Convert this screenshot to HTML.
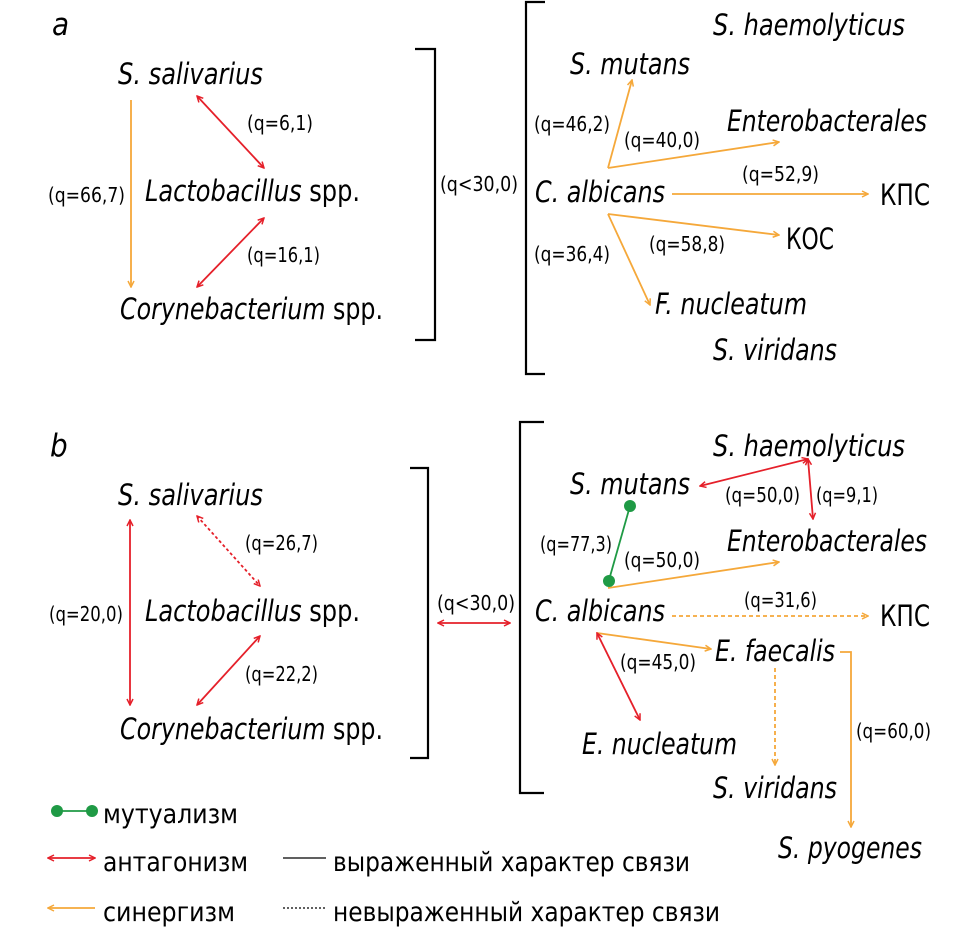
<!DOCTYPE html>
<html><head><meta charset="utf-8"><style>
html,body{margin:0;padding:0;background:#fff;}
svg{display:block;}
text{font-family:"Liberation Sans Narrow","DejaVu Sans Condensed","Liberation Sans",sans-serif;fill:#000;}
.n{font-size:29px;font-style:italic;}
.q{font-size:20px;}
.l{font-size:27px;}
</style></head><body>
<svg width="980" height="929" viewBox="0 0 980 929" xmlns="http://www.w3.org/2000/svg">
<defs>
<marker id="r" viewBox="0 0 8 8" refX="7" refY="4" markerWidth="8" markerHeight="8" markerUnits="userSpaceOnUse" orient="auto-start-reverse"><path d="M1,1 L7,4 L1,7" fill="none" stroke="#e5202a" stroke-width="1.5"/></marker>
<marker id="o" viewBox="0 0 8 8" refX="7" refY="4" markerWidth="8" markerHeight="8" markerUnits="userSpaceOnUse" orient="auto-start-reverse"><path d="M1,1 L7,4 L1,7" fill="none" stroke="#f5a83a" stroke-width="1.5"/></marker>
</defs>
<g fill="none" stroke-width="1.8">
<line x1="131" y1="100" x2="131" y2="287" stroke="#f5a83a" marker-end="url(#o)"/>
<line x1="197" y1="96" x2="264" y2="168" stroke="#e5202a" marker-start="url(#r)" marker-end="url(#r)"/>
<line x1="264" y1="218" x2="197" y2="287" stroke="#e5202a" marker-start="url(#r)" marker-end="url(#r)"/>
<path d="M415,49 H435 V340 H415" stroke="#000" stroke-width="2.2"/>
<path d="M545,2 H526 V374 H545" stroke="#000" stroke-width="2.2"/>
<line x1="608" y1="168" x2="632" y2="80" stroke="#f5a83a" marker-end="url(#o)"/>
<line x1="608" y1="168" x2="779" y2="142" stroke="#f5a83a" marker-end="url(#o)"/>
<line x1="672" y1="194" x2="868" y2="194" stroke="#f5a83a" marker-end="url(#o)"/>
<line x1="608" y1="214" x2="779" y2="235" stroke="#f5a83a" marker-end="url(#o)"/>
<line x1="608" y1="214" x2="650" y2="305" stroke="#f5a83a" marker-end="url(#o)"/>
<line x1="130" y1="520" x2="130" y2="705" stroke="#e5202a" marker-start="url(#r)" marker-end="url(#r)"/>
<line x1="197" y1="516" x2="260" y2="586" stroke="#e5202a" stroke-dasharray="3,2.5" marker-start="url(#r)" marker-end="url(#r)"/>
<line x1="260" y1="636" x2="197" y2="705" stroke="#e5202a" marker-start="url(#r)" marker-end="url(#r)"/>
<path d="M410,468 H428 V758 H410" stroke="#000" stroke-width="2.2"/>
<line x1="438" y1="623" x2="510" y2="623" stroke="#e5202a" marker-start="url(#r)" marker-end="url(#r)"/>
<path d="M544,422 H520 V793 H544" stroke="#000" stroke-width="2.2"/>
<line x1="700" y1="486" x2="808" y2="459" stroke="#e5202a" marker-start="url(#r)" marker-end="url(#r)"/>
<line x1="808" y1="459" x2="813" y2="519" stroke="#e5202a" marker-start="url(#r)" marker-end="url(#r)"/>
<line x1="630" y1="506" x2="609" y2="580" stroke="#1f9a45"/>
<line x1="608" y1="588" x2="779" y2="562" stroke="#f5a83a" marker-end="url(#o)"/>
<line x1="672" y1="616" x2="868" y2="616" stroke="#f5a83a" stroke-dasharray="4,3" marker-end="url(#o)"/>
<line x1="597" y1="633" x2="711" y2="649" stroke="#f5a83a" marker-end="url(#o)"/>
<line x1="597" y1="633" x2="640" y2="720" stroke="#e5202a" marker-start="url(#r)" marker-end="url(#r)"/>
<line x1="775" y1="668" x2="775" y2="765" stroke="#f5a83a" stroke-dasharray="4,3" marker-end="url(#o)"/>
<path d="M840,652 H851 V827" stroke="#f5a83a" marker-end="url(#o)"/>
<line x1="57" y1="811" x2="92" y2="811" stroke="#1f9a45"/>
<line x1="48" y1="858" x2="95" y2="858" stroke="#e5202a" marker-start="url(#r)" marker-end="url(#r)"/>
<line x1="48" y1="908" x2="95" y2="908" stroke="#f5a83a" marker-start="url(#o)"/>
<line x1="283" y1="858" x2="326" y2="858" stroke="#000" stroke-width="1.3"/>
<line x1="283" y1="908" x2="326" y2="908" stroke="#000" stroke-width="1.2" stroke-dasharray="2,2"/>
</g>
<circle cx="630" cy="506" r="6" fill="#1f9a45"/>
<circle cx="609" cy="581" r="6" fill="#1f9a45"/>
<circle cx="57" cy="811" r="6" fill="#1f9a45"/>
<circle cx="92" cy="811" r="6" fill="#1f9a45"/>

<g>
<text class="n" x="52" y="35" style="font-size:31px">a</text>
<text class="n" x="118" y="84" textLength="145" lengthAdjust="spacingAndGlyphs">S. salivarius</text>
<text class="n" x="145" y="201" textLength="215" lengthAdjust="spacingAndGlyphs">Lactobacillus <tspan style="font-style:normal">spp.</tspan></text>
<text class="n" x="120" y="319" textLength="263" lengthAdjust="spacingAndGlyphs">Corynebacterium <tspan style="font-style:normal">spp.</tspan></text>
<text class="q" x="247" y="130" textLength="66" lengthAdjust="spacingAndGlyphs">(q=6,1)</text>
<text class="q" x="48" y="202" textLength="77" lengthAdjust="spacingAndGlyphs">(q=66,7)</text>
<text class="q" x="247" y="262" textLength="73" lengthAdjust="spacingAndGlyphs">(q=16,1)</text>
<text class="q" x="440" y="191" textLength="78" lengthAdjust="spacingAndGlyphs">(q&lt;30,0)</text>
<text class="n" x="713" y="35" textLength="192" lengthAdjust="spacingAndGlyphs">S. haemolyticus</text>
<text class="n" x="570" y="74" textLength="120" lengthAdjust="spacingAndGlyphs">S. mutans</text>
<text class="q" x="534" y="131" textLength="76" lengthAdjust="spacingAndGlyphs">(q=46,2)</text>
<text class="q" x="624" y="147" textLength="76" lengthAdjust="spacingAndGlyphs">(q=40,0)</text>
<text class="n" x="727" y="131" textLength="200" lengthAdjust="spacingAndGlyphs">Enterobacterales</text>
<text class="n" x="535" y="202" textLength="130" lengthAdjust="spacingAndGlyphs">C. albicans</text>
<text class="q" x="742" y="181" textLength="77" lengthAdjust="spacingAndGlyphs">(q=52,9)</text>
<text class="n" x="880" y="205" style="font-style:normal" textLength="50" lengthAdjust="spacingAndGlyphs">КПС</text>
<text class="n" x="786" y="249" style="font-style:normal" textLength="48" lengthAdjust="spacingAndGlyphs">КОС</text>
<text class="q" x="649" y="251" textLength="76" lengthAdjust="spacingAndGlyphs">(q=58,8)</text>
<text class="q" x="534" y="261" textLength="76" lengthAdjust="spacingAndGlyphs">(q=36,4)</text>
<text class="n" x="655" y="314" textLength="152" lengthAdjust="spacingAndGlyphs">F. nucleatum</text>
<text class="n" x="713" y="360" textLength="124" lengthAdjust="spacingAndGlyphs">S. viridans</text>

<text class="n" x="50" y="456" style="font-size:31px">b</text>
<text class="n" x="118" y="505" textLength="145" lengthAdjust="spacingAndGlyphs">S. salivarius</text>
<text class="n" x="145" y="621" textLength="215" lengthAdjust="spacingAndGlyphs">Lactobacillus <tspan style="font-style:normal">spp.</tspan></text>
<text class="n" x="120" y="739" textLength="263" lengthAdjust="spacingAndGlyphs">Corynebacterium <tspan style="font-style:normal">spp.</tspan></text>
<text class="q" x="245" y="550" textLength="73" lengthAdjust="spacingAndGlyphs">(q=26,7)</text>
<text class="q" x="49" y="621" textLength="74" lengthAdjust="spacingAndGlyphs">(q=20,0)</text>
<text class="q" x="245" y="681" textLength="73" lengthAdjust="spacingAndGlyphs">(q=22,2)</text>
<text class="q" x="437" y="610" textLength="78" lengthAdjust="spacingAndGlyphs">(q&lt;30,0)</text>
<text class="n" x="713" y="456" textLength="192" lengthAdjust="spacingAndGlyphs">S. haemolyticus</text>
<text class="n" x="570" y="494" textLength="120" lengthAdjust="spacingAndGlyphs">S. mutans</text>
<text class="q" x="725" y="502" textLength="75" lengthAdjust="spacingAndGlyphs">(q=50,0)</text>
<text class="q" x="816" y="502" textLength="62" lengthAdjust="spacingAndGlyphs">(q=9,1)</text>
<text class="n" x="727" y="551" textLength="200" lengthAdjust="spacingAndGlyphs">Enterobacterales</text>
<text class="q" x="540" y="551" textLength="72" lengthAdjust="spacingAndGlyphs">(q=77,3)</text>
<text class="q" x="624" y="567" textLength="76" lengthAdjust="spacingAndGlyphs">(q=50,0)</text>
<text class="n" x="535" y="621" textLength="130" lengthAdjust="spacingAndGlyphs">C. albicans</text>
<text class="q" x="744" y="607" textLength="73" lengthAdjust="spacingAndGlyphs">(q=31,6)</text>
<text class="n" x="880" y="626" style="font-style:normal" textLength="50" lengthAdjust="spacingAndGlyphs">КПС</text>
<text class="n" x="715" y="661" textLength="120" lengthAdjust="spacingAndGlyphs">E. faecalis</text>
<text class="q" x="620" y="669" textLength="76" lengthAdjust="spacingAndGlyphs">(q=45,0)</text>
<text class="n" x="582" y="754" textLength="155" lengthAdjust="spacingAndGlyphs">E. nucleatum</text>
<text class="q" x="856" y="738" textLength="75" lengthAdjust="spacingAndGlyphs">(q=60,0)</text>
<text class="n" x="713" y="798" textLength="124" lengthAdjust="spacingAndGlyphs">S. viridans</text>
<text class="n" x="778" y="858" textLength="144" lengthAdjust="spacingAndGlyphs">S. pyogenes</text>

<text class="l" x="103" y="823" textLength="135" lengthAdjust="spacingAndGlyphs">мутуализм</text>
<text class="l" x="103" y="871" textLength="145" lengthAdjust="spacingAndGlyphs">антагонизм</text>
<text class="l" x="333" y="871" textLength="357" lengthAdjust="spacingAndGlyphs">выраженный характер связи</text>
<text class="l" x="103" y="921" textLength="132" lengthAdjust="spacingAndGlyphs">синергизм</text>
<text class="l" x="333" y="921" textLength="387" lengthAdjust="spacingAndGlyphs">невыраженный характер связи</text>
</g>
</svg>
</body></html>
